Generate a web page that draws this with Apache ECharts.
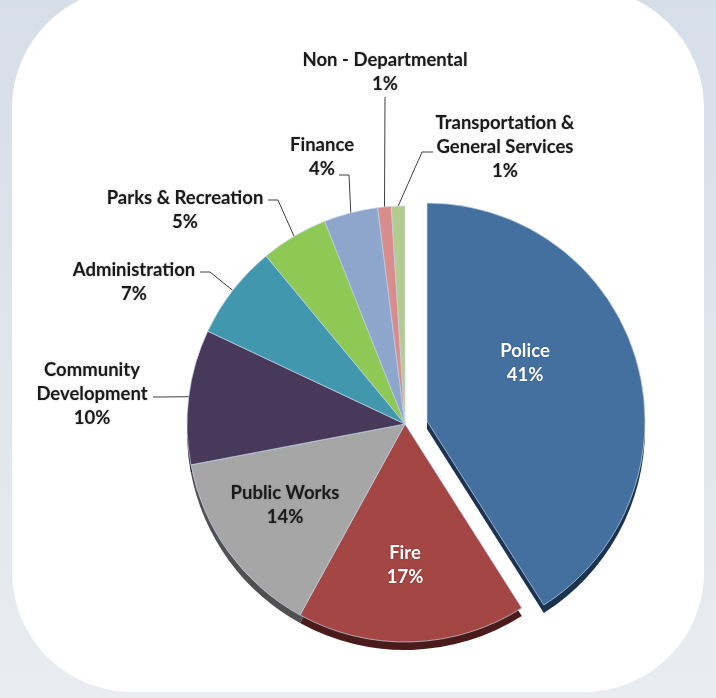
<!DOCTYPE html>
<html>
<head>
<meta charset="utf-8">
<script src="https://cdn.jsdelivr.net/npm/echarts@6/dist/echarts.min.js"></script>
<style>
  html, body { margin: 0; padding: 0; }
  body { width: 716px; height: 698px; background: linear-gradient(#d6dee8, #e9ecf0); overflow: hidden; }
  #card { position: absolute; left: 12px; top: -12px; width: 692px; height: 704px; background: #fff; border-radius: 120px; }
  #chart { position: absolute; left: 0; top: 0; width: 716px; height: 698px; }
</style>
</head>
<body>
<div id="card"></div>
<div id="chart"></div>
<script>
// 部门预算占比（%）
const departments = ['Police', 'Fire', 'Public Works', 'Community\nDevelopment', 'Administration',
  'Parks & Recreation', 'Finance', 'Non - Departmental', 'Transportation &\nGeneral Services'];
const shares = [41, 17, 14, 10, 7, 5, 4, 1, 1];
const faceColors = ['#44709f', '#a34644', '#a6a6a6', '#48395a', '#4097ae', '#8ec956', '#8fa6cc', '#d88c8c', '#b4cc90'];
const sideColors = ['#1b3350', '#4a1b1a', '#505050', '#271d33', '#1f4b58', '#4a6b2a', '#4a566b', '#704444', '#5c6a48'];
const explodedIndex = 0; // Police 分离出来

// 标签位置：[x, y, 引线末端x, 引线末端y, 折点x]
const labelSpots = [
  [525, 363], [405, 565], [285, 505],
  [92, 394, 153, 397, 163],
  [134, 282, 200, 272, 210],
  [185, 210, 268, 200, 278],
  [322, 157, 339, 175, 349],
  [385, 72, 385, 97, 385],
  [505, 147, 433, 152, 422]
];

const CX = 405, CY = 424, R = 218, DEPTH = 8;
const EXPLODE_DX = 22, EXPLODE_DY = -3;

const chart = echarts.init(document.getElementById('chart'), null, { renderer: 'canvas' });

// exploded=true 只画分离的那一块，否则画其余部分
function buildData(colors, withLabels, exploded) {
  return departments.map((name, i) => {
    const visible = (i === explodedIndex) === exploded;
    const inside = i < 3;
    if (!visible) {
      return {
        name: name, value: shares[i],
        itemStyle: { color: 'rgba(0,0,0,0)', borderWidth: 0 },
        label: { show: false }, labelLine: { show: false }
      };
    }
    return {
      name: name,
      value: shares[i],
      itemStyle: { color: colors[i] },
      label: withLabels ? {
        show: true,
        position: inside ? 'inside' : 'outside',
        color: inside && i < 2 ? '#fff' : '#1a1a1a'
      } : { show: false },
      labelLine: { show: withLabels && !inside }
    };
  });
}

function makeSeries(colors, withLabels, exploded, dy, z) {
  const s = {
    type: 'pie',
    silent: true,
    z: z,
    center: exploded ? [CX + EXPLODE_DX, CY + EXPLODE_DY + dy] : [CX, CY + dy],
    radius: R,
    startAngle: 90,
    clockwise: true,
    avoidLabelOverlap: false,
    itemStyle: withLabels ? { borderColor: 'rgba(200,215,235,0.7)', borderWidth: 1 } : { borderWidth: 0 },
    label: { show: false },
    labelLine: { show: false },
    data: buildData(colors, withLabels, exploded)
  };
  if (withLabels) {
    s.label = {
      formatter: p => p.name + '\n' + p.value + '%',
      fontFamily: 'Lato',
      fontWeight: 'bold',
      fontSize: 18.5,
      lineHeight: 24,
      textShadowColor: 'rgba(0,0,0,0.25)',
      textShadowBlur: 2
    };
    s.labelLine = { lineStyle: { color: '#404040', width: 1 } };
    s.labelLayout = function (p) {
      const spot = labelSpots[p.dataIndex];
      const out = { x: spot[0], y: spot[1], align: 'center', verticalAlign: 'middle' };
      if (spot.length > 2 && p.labelLinePoints) {
        const a = p.labelLinePoints[0];
        out.labelLinePoints = [[a[0], a[1]], [spot[4], spot[3]], [spot[2], spot[3]]];
      }
      return out;
    };
  }
  return s;
}

chart.setOption({
  animation: false,
  series: [
    // 底层厚度
    makeSeries(sideColors, false, false, DEPTH, 1),
    makeSeries(sideColors, false, true, DEPTH, 1),
    // 顶面
    makeSeries(faceColors, true, false, 0, 2),
    makeSeries(faceColors, true, true, 0, 2)
  ]
});
</script>
</body>
</html>
